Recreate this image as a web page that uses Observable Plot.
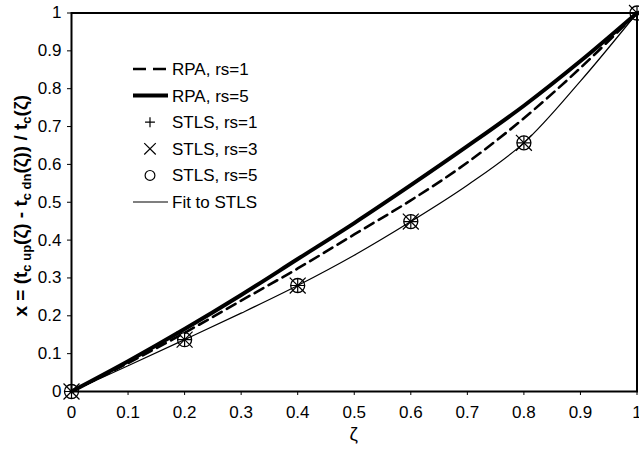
<!DOCTYPE html>
<html>
<head>
<meta charset="utf-8">
<script src="https://cdn.jsdelivr.net/npm/d3@7"></script>
<script src="https://cdn.jsdelivr.net/npm/@observablehq/plot@0.6"></script>
<style>
  html, body { margin: 0; padding: 0; background: #fff; }
  #chart { width: 639px; height: 451px; }
</style>
</head>
<body>
<div id="chart"></div>
<script>
// Spin polarization ζ and the relative spin-split of the correlation energy
const zeta = [0, 0.1, 0.2, 0.3, 0.4, 0.5, 0.6, 0.7, 0.8, 0.9, 1];
const rpaRs1 = [0, 0.075, 0.155, 0.24, 0.325, 0.415, 0.505, 0.605, 0.722, 0.855, 1];
const rpaRs5 = [0, 0.08, 0.165, 0.255, 0.35, 0.445, 0.545, 0.648, 0.755, 0.873, 1];
const fitStls = [0, 0.068, 0.137, 0.207, 0.28, 0.36, 0.449, 0.545, 0.657, 0.82, 1];

// STLS points
const zetaStls = [0, 0.2, 0.4, 0.6, 0.8, 1];
const stlsRs1 = [0, 0.137, 0.28, 0.449, 0.657, 1];
const stlsRs3 = [0, 0.137, 0.28, 0.449, 0.657, 1];
const stlsRs5 = [0, 0.137, 0.28, 0.449, 0.657, 1];

const xTicks = [0, 0.1, 0.2, 0.3, 0.4, 0.5, 0.6, 0.7, 0.8, 0.9, 1];
const yTicks = [0, 0.1, 0.2, 0.3, 0.4, 0.5, 0.6, 0.7, 0.8, 0.9, 1];

const legendItems = [
  {label: "RPA, rs=1", kind: "line", width: 2.6, dash: "13,7"},
  {label: "RPA, rs=5", kind: "line", width: 4, dash: null},
  {label: "STLS, rs=1", kind: "plus"},
  {label: "STLS, rs=3", kind: "times"},
  {label: "STLS, rs=5", kind: "circle"},
  {label: "Fit to STLS", kind: "line", width: 1.2, dash: null}
];

const series = (xs, ys) => xs.map((x, i) => ({x, y: ys[i]}));
const fmt = d => String(+d.toFixed(1));

const W = 639, H = 451;
const margin = {left: 71, right: 2.5, top: 12.5, bottom: 60};
const font = "'Liberation Sans', Arial, Helvetica, sans-serif";

const chart = Plot.plot({
  width: W,
  height: H,
  marginLeft: margin.left,
  marginRight: margin.right,
  marginTop: margin.top,
  marginBottom: margin.bottom,
  style: {fontFamily: font, fontSize: "17px", background: "#fff", color: "#000", overflow: "visible"},
  x: {domain: [0, 1], ticks: xTicks, tickFormat: fmt, tickSize: 4, tickPadding: 10, label: null},
  y: {domain: [0, 1], ticks: yTicks, tickFormat: fmt, tickSize: 4, tickPadding: 6, label: null},
  marks: [
    Plot.line(series(zeta, fitStls), {x: "x", y: "y", stroke: "#000", strokeWidth: 1.2, curve: "catmull-rom"}),
    Plot.line(series(zeta, rpaRs1), {x: "x", y: "y", stroke: "#000", strokeWidth: 2.6, strokeDasharray: "10,6", curve: "catmull-rom"}),
    Plot.line(series(zeta, rpaRs5), {x: "x", y: "y", stroke: "#000", strokeWidth: 4, curve: "catmull-rom"}),
    Plot.dot(series(zetaStls, stlsRs1), {x: "x", y: "y", symbol: "plus", r: 4.6, stroke: "#000", strokeWidth: 1.2}),
    Plot.dot(series(zetaStls, stlsRs3), {x: "x", y: "y", symbol: "times", r: 7.3, stroke: "#000", strokeWidth: 1.2}),
    Plot.dot(series(zetaStls, stlsRs5), {x: "x", y: "y", symbol: "circle", r: 7, stroke: "#000", strokeWidth: 1.3, fill: "none"}),
    Plot.frame({stroke: "#000", strokeWidth: 2})
  ]
});

document.getElementById("chart").appendChild(chart);

const svg = d3.select(chart);
const plotLeft = margin.left, plotRight = W - margin.right;
const plotTop = margin.top, plotBottom = H - margin.bottom;

// Axis titles
svg.append("text")
  .attr("x", (plotLeft + plotRight) / 2)
  .attr("y", 440)
  .attr("text-anchor", "middle")
  .attr("font-family", font)
  .attr("font-size", 19)
  .text("ζ");

const yTitle = svg.append("text")
  .attr("transform", `translate(27,${(plotTop + plotBottom) / 2 + 4}) rotate(-90)`)
  .attr("text-anchor", "middle")
  .attr("font-family", font)
  .attr("font-weight", "bold")
  .attr("font-size", 19);
const parts = [
  ["x = (t", false], ["c up", true], ["(ζ) - t", false], ["c dn", true],
  ["(ζ)) / t", false], ["c", true], ["(ζ)", false]
];
parts.forEach(([txt, sub]) => {
  yTitle.append("tspan")
    .attr("dy", sub ? 4 : -4)
    .attr("font-size", sub ? 13 : 19)
    .text(txt);
});
yTitle.select("tspan").attr("dy", 0);

// Legend
const lg = svg.append("g")
  .attr("font-family", font)
  .attr("font-size", 17)
  .attr("text-anchor", "start");
const rowY = i => 69 + i * 26.6;
legendItems.forEach((d, i) => {
  const y = rowY(i);
  if (d.kind === "line") {
    lg.append("line")
      .attr("x1", 133).attr("x2", 168).attr("y1", y).attr("y2", y)
      .attr("stroke", "#000").attr("stroke-width", d.width)
      .attr("stroke-dasharray", d.dash);
  } else {
    const sym = {plus: d3.symbolPlus, times: d3.symbolTimes, circle: d3.symbolCircle}[d.kind];
    const size = {plus: 34, times: 88, circle: 75}[d.kind];
    lg.append("path")
      .attr("transform", `translate(150,${y})`)
      .attr("d", d3.symbol(sym, size)())
      .attr("fill", "none").attr("stroke", "#000").attr("stroke-width", 1.2);
  }
  lg.append("text")
    .attr("x", 172).attr("y", y).attr("dy", "0.35em")
    .attr("text-anchor", "start")
    .text(d.label);
});
</script>
</body>
</html>
